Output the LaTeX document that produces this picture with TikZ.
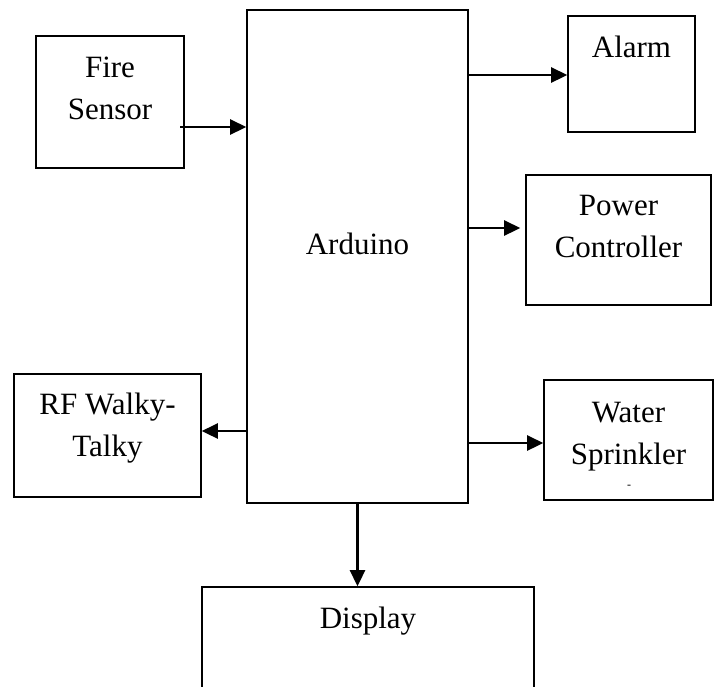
\documentclass[tikz,border=0pt]{standalone}
\usepackage{fontspec}
\setmainfont{Liberation Serif}
\usepackage{tikz}
\usetikzlibrary{arrows.meta}
\tikzset{
  blk/.style    ={rectangle, draw=black, line width=1.6pt, fill=white, inner sep=0pt},
  blktxt/.style ={font=\fontsize{31}{42}\selectfont, align=center, anchor=base, inner sep=0pt},
  sig/.style    ={-{Triangle[length=16pt,width=15pt]}, line width=2.6pt},
}
\begin{document}
\begin{tikzpicture}[x=1pt, y=-1pt]
  \clip (0,0) rectangle (718,686);
  \fill[white] (0,0) rectangle (718,686);
  % blocks
  \node[blk, minimum width=148pt, minimum height=132pt] (fire)  at (110,102)   {};
  \node[blk, minimum width=221pt, minimum height=493pt] (ard)   at (357.5,256.5) {};
  \node[blk, minimum width=127pt, minimum height=116pt] (alarm) at (631.5,74)  {};
  \node[blk, minimum width=185pt, minimum height=130pt] (power) at (618.5,240) {};
  \node[blk, minimum width=169pt, minimum height=120pt] (water) at (628.5,440) {};
  \node[blk, minimum width=187pt, minimum height=123pt] (rf)    at (107.5,435.5) {};
  \node[blk, minimum width=332pt, minimum height=133pt] (disp)  at (368,653.5) {};
  % texts (base = last line)
  \node[blktxt] (firetxt)  at (110,119)   {Fire\\Sensor};
  \node[blktxt] (ardtxt)   at (357.5,254) {Arduino};
  \node[blktxt] (alarmtxt) at (631.5,57)  {Alarm};
  \node[blktxt] (powertxt) at (618.5,257) {Power\\Controller};
  \node[blktxt] (watertxt) at (628.5,464) {Water\\Sprinkler};
  \node[blktxt] (rftxt)    at (107.5,456) {RF Walky-\\Talky};
  \node[blktxt] (disptxt)  at (368,628)   {Display};
  \node[font=\fontsize{12}{12}\selectfont, inner sep=0pt] (waterdash) at (629,487) {-};
  % signals
  \coordinate (fireout) at (180,127);
  \draw[sig] (fireout) -- (ard.west |- fireout);
  \draw[sig] (ard.east |- 0,75)  -- (alarm.west |- 0,75);
  \draw[sig, shorten >=5pt] (ard.east |- 0,228) -- (power.west |- 0,228);
  \draw[sig] (ard.east |- 0,443) -- (water.west |- 0,443);
  \draw[sig] (ard.west |- 0,431) -- (rf.east |- 0,431);
  \draw[sig] (ard.south) -- (ard.south |- disp.north);
\end{tikzpicture}
\end{document}
